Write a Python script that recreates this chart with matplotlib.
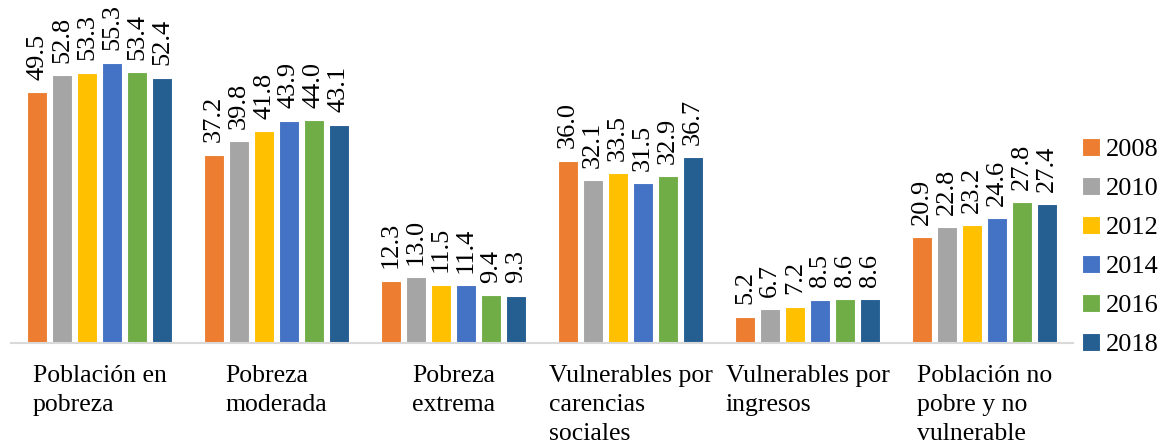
import matplotlib.pyplot as plt
import numpy as np

plt.rcParams['font.family'] = ['Liberation Serif', 'DejaVu Serif']

categories = ["Población en\npobreza", "Pobreza\nmoderada", "Pobreza\nextrema",
              "Vulnerables por\ncarencias\nsociales", "Vulnerables por\ningresos",
              "Población no\npobre y no\nvulnerable"]
years = ["2008", "2010", "2012", "2014", "2016", "2018"]
values = {
    "2008": [49.5, 37.2, 12.3, 36.0, 5.2, 20.9],
    "2010": [52.8, 39.8, 13.0, 32.1, 6.7, 22.8],
    "2012": [53.3, 41.8, 11.5, 33.5, 7.2, 23.2],
    "2014": [55.3, 43.9, 11.4, 31.5, 8.5, 24.6],
    "2016": [53.4, 44.0, 9.4, 32.9, 8.6, 27.8],
    "2018": [52.4, 43.1, 9.3, 36.7, 8.6, 27.4],
}
colors = ["#ED7D31", "#A5A5A5", "#FFC000", "#4472C4", "#70AD47", "#255E91"]

fig = plt.figure(figsize=(11.6, 4.47), dpi=100)
ax = fig.add_axes([0.0095, 0.2327, 0.9155, 0.68])

x = np.arange(len(categories))
step = 0.141
width = 0.115
for i, (yr, c) in enumerate(zip(years, colors)):
    pos = x + (i - 2.5) * step
    bars = ax.bar(pos, values[yr], width, color=c, edgecolor='white',
                  linewidth=0.8, label=yr)
    for b, v in zip(bars, values[yr]):
        ax.annotate(f"{v:.1f}", (b.get_x() + b.get_width() / 2, v),
                    xytext=(0, 9), textcoords='offset points',
                    ha='center', va='bottom', rotation=90, fontsize=19,
                    annotation_clip=False)

ax.set_xlim(-0.5, len(categories) - 0.5)
ax.set_ylim(0, 60)
ax.set_yticks([])
ax.set_xticks([])
for s in ['top', 'right', 'left']:
    ax.spines[s].set_visible(False)
ax.spines['bottom'].set_color('#D9D9D9')
ax.spines['bottom'].set_linewidth(1.5)

for xi, lab in zip(x, categories):
    ax.text(xi, -4.3, lab, ha='center', va='top', multialignment='left',
            fontsize=18.5, linespacing=1.42)

ax.legend(loc='center left', bbox_to_anchor=(0.999, 0.315), frameon=False,
          fontsize=19, handlelength=0.65, handleheight=0.65,
          handletextpad=0.25, labelspacing=0.6, borderaxespad=0)

fig.savefig("out.png", dpi=100)
